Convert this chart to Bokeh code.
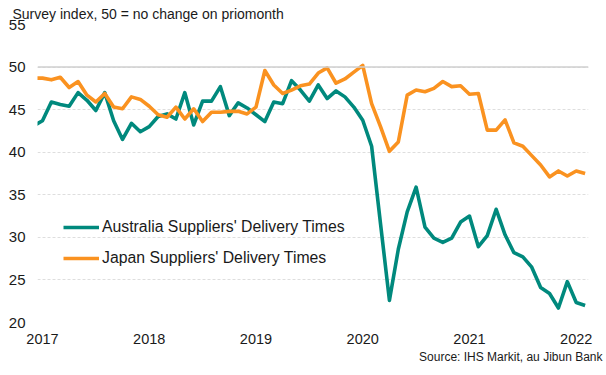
import numpy as np
from bokeh.plotting import figure
from bokeh.models import (ColumnDataSource, FixedTicker, Legend, LegendItem,
                          Span, Title)
from bokeh.embed import file_html
from bokeh.resources import INLINE

# Monthly data, Dec 2016 .. Feb 2022 (first point is clipped by the axis)
months = ["2016-12"] + [f"{y}-{m:02d}" for y in range(2017, 2022) for m in range(1, 13)] + ["2022-01", "2022-02"]

australia = [43.1,
             43.7, 45.9, 45.6, 45.4, 47.0, 46.1, 44.9, 47.0, 43.7, 41.5, 43.4, 42.4,
             43.0, 44.2, 44.5, 43.9, 47.0, 43.2, 46.0, 46.0, 47.7, 44.3, 45.8, 45.2,
             44.4, 43.6, 45.9, 45.7, 48.4, 47.3, 46.0, 47.9, 46.3, 47.2, 46.5, 45.3,
             43.75, 40.7, 31.6, 22.6, 28.6, 33.0, 35.9, 31.2, 29.9, 29.4, 29.9, 31.8,
             32.5, 28.9, 30.2, 33.3, 30.3, 28.2, 27.7, 26.5, 24.1, 23.4, 21.7, 24.8,
             22.35, 22.0]

japan = [48.7,
         48.7, 48.5, 48.8, 47.6, 48.3, 46.7, 45.9, 46.9, 45.3, 45.1, 46.5, 46.2,
         45.4, 44.4, 44.1, 45.3, 43.9, 45.1, 43.6, 44.7, 44.7, 44.8, 44.8, 44.5,
         45.3, 49.6, 47.9, 46.9, 47.3, 47.8, 48.0, 49.3, 49.9, 48.1, 48.6, 49.4,
         50.2, 45.7, 43.0, 40.1, 41.2, 46.7, 47.3, 47.1, 47.5, 48.3, 47.7, 47.8,
         46.8, 46.9, 42.6, 42.6, 43.8, 41.1, 40.7, 39.6, 38.5, 37.1, 37.8, 37.2,
         37.8, 37.5]

year_labels = ["2017", "2018", "2019", "2020", "2021", "2022"]
y_ticks = [20, 25, 30, 35, 40, 45, 50, 55]

series_names = ["Australia Suppliers' Delivery Times", "Japan Suppliers' Delivery Times"]
title_text = "Survey index, 50 = no change on priomonth"
source_text = "Source: IHS Markit, au Jibun Bank"

# month index: Jan 2017 = 0
idx = np.arange(len(months)) - 1
src = ColumnDataSource(dict(x=idx, aus=australia, jpn=japan, month=months))

FONT = "Liberation Sans"
TEAL = "#00897D"
ORANGE = "#FA9220"
TXT = "#1a1a1a"

p = figure(width=604, height=372, output_backend="svg", toolbar_location=None,
           x_range=(-0.56, 61.38), y_range=(20, 55),
           min_border_left=37, min_border_right=16, min_border_top=24,
           min_border_bottom=50)
p.outline_line_color = None
p.background_fill_color = "white"
p.border_fill_color = "white"

r1 = p.line("x", "aus", source=src, line_color=TEAL, line_width=3.6, line_join="round")
r2 = p.line("x", "jpn", source=src, line_color=ORANGE, line_width=3.6, line_join="round")

# axes
tick_pos = [12 * k for k in range(len(year_labels))]
p.xaxis.ticker = FixedTicker(ticks=tick_pos)
p.xaxis.major_label_overrides = {t: lab for t, lab in zip(tick_pos, year_labels)}
p.yaxis.ticker = FixedTicker(ticks=y_ticks)
for ax in (p.xaxis[0], p.yaxis[0]):
    ax.axis_line_color = None
    ax.major_tick_out = 0
    ax.major_tick_in = 0
    ax.minor_tick_out = 0
    ax.minor_tick_in = 0
    ax.major_label_text_font = FONT
    ax.major_label_text_color = TXT
p.xaxis.major_label_text_font_size = "14.5px"
p.xaxis.major_label_standoff = 11
p.yaxis.major_label_text_font_size = "15px"
p.yaxis.major_label_standoff = 12

p.xgrid.grid_line_color = None
p.ygrid.grid_line_color = "#dedede"
p.ygrid.grid_line_dash = "3 2"
p.ygrid.grid_line_width = 1
p.add_layout(Span(location=50, dimension="width", line_color="#cfcfcf", line_width=1.5), "center")

legend = Legend(items=[LegendItem(label=series_names[0], renderers=[r1]),
                       LegendItem(label=series_names[1], renderers=[r2])],
                location=(26, 54), orientation="vertical",
                glyph_width=36, glyph_height=20, label_height=20, label_width=10,
                spacing=11, padding=0, margin=0, label_standoff=3,
                label_text_font=FONT, label_text_font_size="15.8px",
                label_text_color=TXT,
                border_line_color=None, background_fill_alpha=0)
p.add_layout(legend, "center")

p.title = Title(text=title_text, align="left", offset=-25, standoff=5,
                text_font=FONT, text_font_size="14px", text_font_style="normal",
                text_color=TXT)
p.add_layout(Title(text=source_text, align="right", offset=-14, standoff=2,
                   text_font=FONT, text_font_size="12px", text_font_style="normal",
                   text_color=TXT), "below")

open("out.html", "w").write(file_html(p, INLINE))
